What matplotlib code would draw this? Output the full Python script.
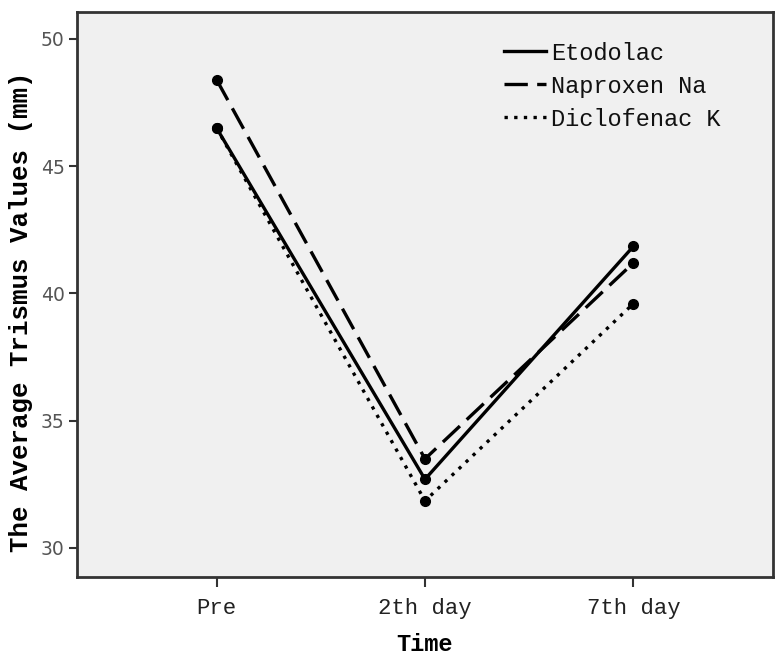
import matplotlib
matplotlib.use("Agg")
import matplotlib.pyplot as plt

# data
times = ["Pre", "2th day", "7th day"]
etodolac = [46.5, 32.7, 41.85]
naproxen = [48.4, 33.5, 41.2]
diclofenac = [46.5, 31.85, 39.6]

mono = "Liberation Mono"

fig = plt.figure(figsize=(7.83, 6.58), dpi=100)
fig.patch.set_facecolor("white")
ax = fig.add_axes([0.0983, 0.1231, 0.8889, 0.8587])
ax.set_facecolor("#f0f0f0")

x = list(range(len(times)))
ax.plot(x, etodolac, color="black", lw=2.4, ls="-", marker="o", ms=7, label="Etodolac")
ax.plot(x, naproxen, color="black", lw=2.4, ls=(0, (7, 2.8)), marker="o", ms=7, label="Naproxen Na")
ax.plot(x, diclofenac, color="black", lw=2.4, ls=(0, (1, 1.9)), marker="o", ms=7, label="Diclofenac K")

ax.set_xlim(-0.67, 2.67)
ax.set_ylim(28.86, 51.06)
ax.set_xticks(x)
ax.set_xticklabels(times, fontfamily=mono, fontsize=16, color="#222222")
ax.set_yticks([30, 35, 40, 45, 50])
ax.tick_params(axis="y", labelsize=13.5, labelcolor="#555555", length=6, width=1.5, color="#333333", pad=3)
ax.tick_params(axis="x", length=7, width=1.5, color="#333333", pad=8)

for s in ax.spines.values():
    s.set_color("#333333")
    s.set_linewidth(2)

ax.set_xlabel("Time", fontfamily=mono, fontweight="bold", fontsize=17, labelpad=10)
ax.set_ylabel("The Average Trismus Values (mm)", fontfamily=mono, fontweight="bold", fontsize=18.5)
ax.yaxis.set_label_coords(-0.063, 0.47)

leg = ax.legend(loc="upper left", bbox_to_anchor=(0.583, 0.985), frameon=False,
                prop={"family": mono, "size": 17}, handlelength=1.8,
                handletextpad=0.2, labelspacing=0.42)
for t in leg.get_texts():
    t.set_color("#111111")
for h in leg.legend_handles:
    h.set_marker("")

fig.savefig("out.png", dpi=100)
